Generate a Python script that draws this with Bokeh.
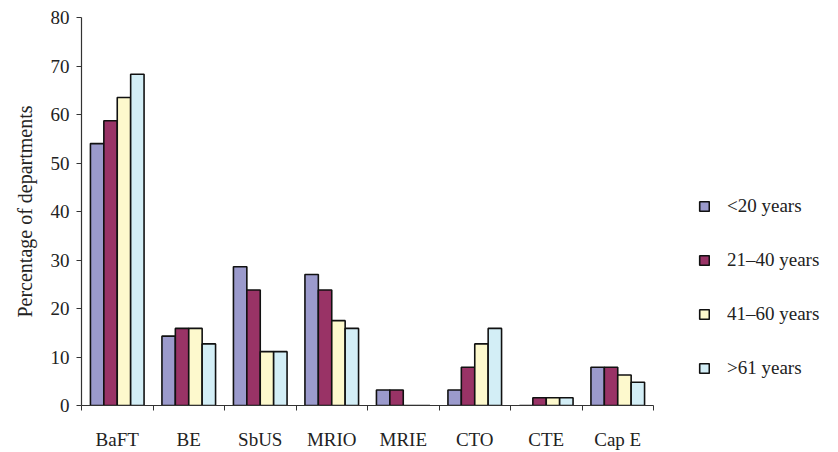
from bokeh.plotting import figure
from bokeh.models import FixedTicker, Legend, LegendItem, Range1d
from bokeh.embed import file_html
from bokeh.resources import INLINE

# Share of departments per treatment option, split by department age
categories = ["BaFT", "BE", "SbUS", "MRIO", "MRIE", "CTO", "CTE", "Cap E"]
series_names = ["<20 years", "21\u201340 years", "41\u201360 years", ">61 years"]
under_20 = [54.0, 14.3, 28.6, 27.0, 3.2, 3.2, 0.0, 7.9]
years_21_40 = [58.7, 15.9, 23.8, 23.8, 3.2, 7.9, 1.6, 7.9]
years_41_60 = [63.5, 15.9, 11.1, 17.5, 0.0, 12.7, 1.6, 6.3]
over_61 = [68.3, 12.7, 11.1, 15.9, 0.0, 15.9, 1.6, 4.8]
y_ticks = [0, 10, 20, 30, 40, 50, 60, 70, 80]

series = [under_20, years_21_40, years_41_60, over_61]
colors = ["#9b9acc", "#993366", "#fdf9cd", "#d3eef6"]

FONT = "Liberation Serif"
n = len(categories)
bar_w = 0.1875
offsets = [(-1.5 + k) * bar_w for k in range(len(series))]

# the frame runs to the right edge so the legend can sit beside the bars;
# the x range is widened by the same ratio and the axis line is bounded
LEFT, WIDTH, HEIGHT = 81, 838, 452
axis_px = 572
x_end = n * (WIDTH - LEFT) / axis_px

p = figure(width=WIDTH, height=HEIGHT, output_backend="svg", toolbar_location=None,
           x_range=Range1d(0, x_end), y_range=Range1d(0, 80),
           min_border_left=LEFT, min_border_right=0,
           min_border_top=17, min_border_bottom=43)
p.outline_line_color = None
p.xgrid.visible = False
p.ygrid.visible = False
p.background_fill_color = "white"
p.border_fill_color = "white"

renderers = []
for vals, off, col in zip(series, offsets, colors):
    xs = [i + 0.5 + off for i in range(n)]
    r = p.vbar(x=xs, top=vals, bottom=0, width=bar_w, fill_color=col,
               line_color="#111111", line_width=1.6)
    renderers.append(r)

# x axis: labels at category centres, tick marks at category boundaries
xa = p.xaxis[0]
xa.bounds = (0, n)
xa.ticker = FixedTicker(ticks=[i + 0.5 for i in range(n)],
                        minor_ticks=list(range(n + 1)))
xa.major_label_overrides = {i + 0.5: c for i, c in enumerate(categories)}
xa.major_tick_out = 0
xa.major_tick_in = 0
xa.minor_tick_out = 5
xa.minor_tick_in = 0
xa.minor_tick_line_color = "#333333"
xa.major_label_standoff = 18
xa.major_label_text_font = FONT
xa.major_label_text_font_size = "19px"
xa.major_label_text_color = "#222222"
xa.axis_line_color = "#333333"
xa.axis_line_width = 1.2

ya = p.yaxis[0]
ya.ticker = FixedTicker(ticks=y_ticks)
ya.minor_tick_line_color = None
ya.major_tick_out = 5
ya.major_tick_in = 0
ya.major_tick_line_color = "#333333"
ya.major_label_standoff = 7
ya.major_label_text_font = FONT
ya.major_label_text_font_size = "19px"
ya.major_label_text_color = "#222222"
ya.axis_line_color = "#333333"
ya.axis_line_width = 1.2
ya.axis_label = "Percentage of departments"
ya.axis_label_text_font = FONT
ya.axis_label_text_font_size = "20px"
ya.axis_label_text_font_style = "normal"
ya.axis_label_text_color = "#222222"
ya.axis_label_standoff = 12

legend = Legend(items=[LegendItem(label=s, renderers=[r]) for s, r in zip(series_names, renderers)],
                location=(617, 26), orientation="vertical",
                glyph_width=12, glyph_height=12, label_height=20,
                label_standoff=17, spacing=32, padding=0, margin=0,
                border_line_color=None, background_fill_alpha=0,
                label_text_font=FONT, label_text_font_size="19px",
                label_text_color="#222222")
p.add_layout(legend)

open("out.html", "w").write(file_html(p, INLINE))
